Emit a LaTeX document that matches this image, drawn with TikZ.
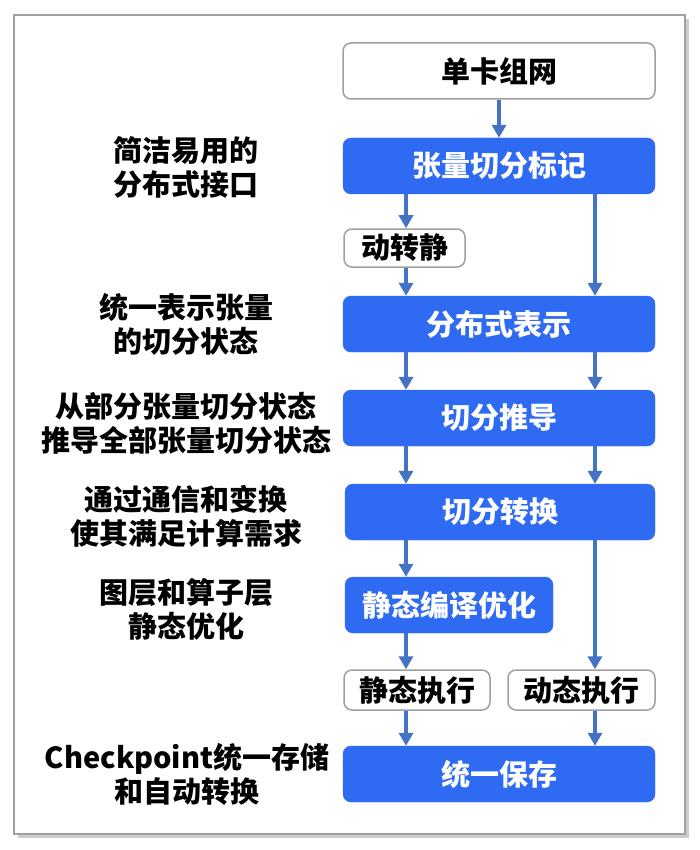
\documentclass[tikz,border=0pt]{standalone}
\usepackage{fontspec}
\setmainfont{Noto Sans CJK SC}
\usetikzlibrary{arrows.meta}
\definecolor{boxblue}{RGB}{47,106,242}
\definecolor{arrblue}{RGB}{68,114,196}
\definecolor{bordergray}{RGB}{160,160,160}
\definecolor{shadowgray}{RGB}{205,205,205}
\tikzset{
  base/.style={rectangle, rounded corners=8pt, inner sep=0pt, align=center,
    font=\bfseries\fontsize{29}{34}\selectfont},
  bluebox/.style={base, fill=boxblue, text=white, draw=boxblue},
  whitebox/.style={base, fill=white, text=black, draw=bordergray, line width=1.5pt},
  note/.style={align=center, inner sep=0pt, font=\bfseries\fontsize{29}{34}\selectfont},
  arr/.style={draw=arrblue, line width=3.5pt, -{Triangle[width=14pt,length=13pt]}},
}
\begin{document}
\begin{tikzpicture}[x=1pt,y=-1pt]
\useasboundingbox (0,0) rectangle (700,850);
% frame with shadow
\fill[shadowgray] (18,19) rectangle (689,838);
\draw[bordergray, line width=2pt, fill=white] (14,15) rectangle (685,834);
% column coordinates
\coordinate (L) at (406,0);
\coordinate (R) at (595,0);
\coordinate (M) at (499,0);
% boxes
\node[whitebox, minimum width=312pt, minimum height=56pt] (top) at (499,71) {单卡组网};
\node[bluebox, minimum width=312pt, minimum height=56pt] (mark) at (499,166) {张量切分标记};
\node[whitebox, minimum width=121pt, minimum height=38pt] (d2s) at (404.5,248) {动转静};
\node[bluebox, minimum width=312pt, minimum height=56pt] (rep) at (499,324) {分布式表示};
\node[bluebox, minimum width=312pt, minimum height=56pt] (der) at (499,418) {切分推导};
\node[bluebox, minimum width=310pt, minimum height=56pt] (conv) at (500,512) {切分转换};
\node[bluebox, minimum width=208pt, minimum height=56pt] (opt) at (449,605) {静态编译优化};
\node[whitebox, minimum width=146pt, minimum height=40pt] (sexec) at (417,690) {静态执行};
\node[whitebox, minimum width=147pt, minimum height=40pt] (dexec) at (581.5,690) {动态执行};
\node[bluebox, minimum width=312pt, minimum height=56pt] (save) at (499,774) {统一保存};
% notes
\node[note] (n1) at (186,167) {简洁易用的\\分布式接口};
\node[note] (n2) at (186,324) {统一表示张量\\的切分状态};
\node[note] (n3) at (186,423.5) {从部分张量切分状态\\推导全部张量切分状态};
\node[note] (n4) at (186,516) {通过通信和变换\\使其满足计算需求};
\node[note] (n5) at (186,609) {图层和算子层\\静态优化};
\node[note] (n6) at (187,774) {Checkpoint统一存储\\和自动转换};
% arrows
\draw[arr] (top.south -| M) -- (mark.north -| M);
\draw[arr] (mark.south -| L) -- (d2s.north -| L);
\draw[arr] (d2s.south -| L) -- (rep.north -| L);
\draw[arr] (mark.south -| R) -- (rep.north -| R);
\draw[arr] (rep.south -| L) -- (der.north -| L);
\draw[arr] (rep.south -| R) -- (der.north -| R);
\draw[arr] (der.south -| L) -- (conv.north -| L);
\draw[arr] (der.south -| R) -- (conv.north -| R);
\draw[arr] (conv.south -| L) -- (opt.north -| L);
\draw[arr] (conv.south -| R) -- (dexec.north -| R);
\draw[arr] (opt.south -| L) -- (sexec.north -| L);
\draw[arr] (sexec.south -| L) -- (save.north -| L);
\draw[arr] (dexec.south -| R) -- (save.north -| R);
\end{tikzpicture}
\end{document}
